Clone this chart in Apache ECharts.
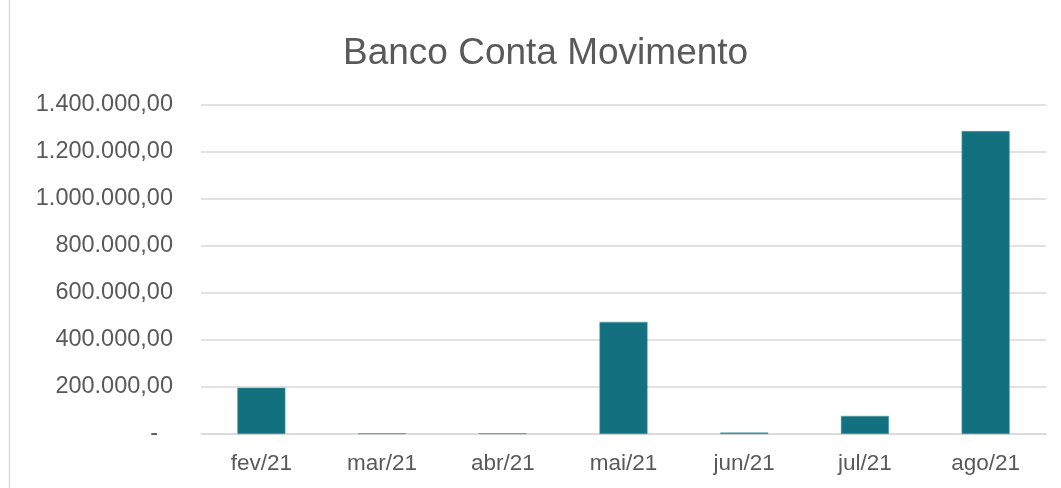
<!DOCTYPE html>
<html><head><meta charset="utf-8">
<script src="https://cdn.jsdelivr.net/npm/echarts@6/dist/echarts.min.js"></script>
<style>html,body{margin:0;padding:0;background:#fff}#c{width:1061px;height:488px}</style>
</head><body><div id="c"></div>
<script>
var categories = ['fev/21','mar/21','abr/21','mai/21','jun/21','jul/21','ago/21'];
var values = [197000, 3000, 3000, 477000, 6000, 77000, 1289000];
var chart = echarts.init(document.getElementById('c'));
function fmt(v){
  if (v === 0) return '{d|-}';
  var s = Math.round(v).toString().replace(/\B(?=(\d{3})+(?!\d))/g, '.');
  return s + ',00';
}
chart.setOption({
  animation:false,
  textStyle:{fontFamily:'Liberation Sans, Arial, sans-serif'},
  graphic:[{type:'rect',shape:{x:9.5,y:-5,width:1100,height:520},style:{fill:'none',stroke:'#d9d9d9',lineWidth:1.5},silent:true}],
  title:{text:'Banco Conta Movimento',left:338,top:30,textStyle:{fontSize:37,fontWeight:'normal',color:'#595959',fontFamily:'Liberation Sans, Arial, sans-serif'}},
  grid:{left:201,right:15,top:105,bottom:54,containLabel:false},
  xAxis:{type:'category',data:categories,axisTick:{show:false},axisLine:{lineStyle:{color:'#d9d9d9',width:1.5}},axisLabel:{color:'#595959',fontSize:22.5,margin:18}},
  yAxis:{type:'value',min:0,max:1400000,interval:200000,axisLine:{show:false},axisTick:{show:false},splitLine:{lineStyle:{color:'#d9d9d9',width:1.5}},axisLabel:{color:'#595959',fontSize:23.5,margin:28,formatter:fmt,rich:{d:{fontSize:23.5,color:'#595959',padding:[0,15,0,0]}}}},
  series:[{type:'bar',data:values,barWidth:48,itemStyle:{color:'#13707F',borderColor:'#4f9aa5',borderWidth:0.5}}]
});
</script></body></html>
